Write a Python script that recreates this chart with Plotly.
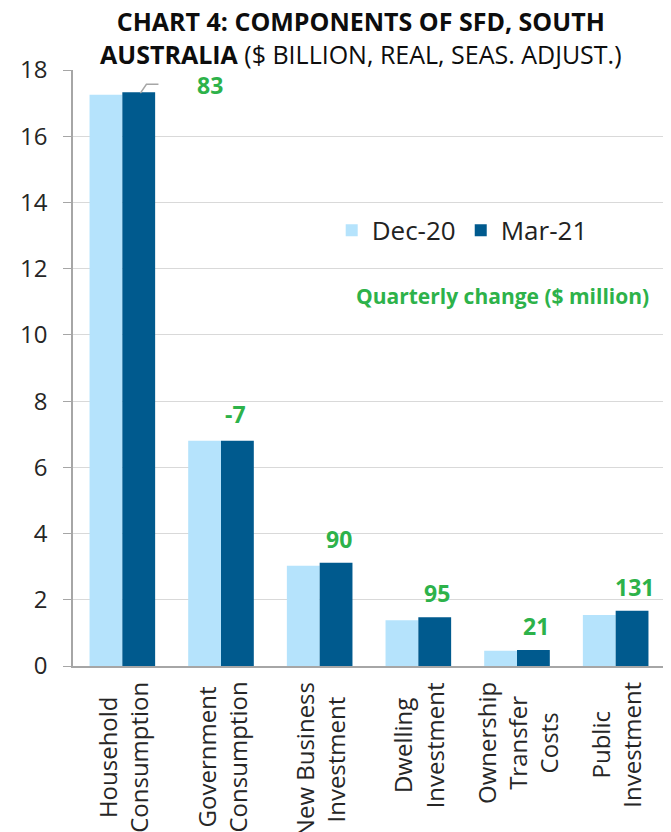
import plotly.graph_objects as go

categories = ["Household<br>Consumption", "Government<br>Consumption", "New Business<br>Investment",
              "Dwelling<br>Investment", "Ownership<br>Transfer<br>Costs", "Public<br>Investment"]
dec20 = [17.25, 6.80, 3.03, 1.38, 0.46, 1.54]
mar21 = [17.33, 6.80, 3.12, 1.47, 0.48, 1.67]
changes = ["83", "-7", "90", "95", "21", "131"]

LIGHT = "#B5E3FC"
DARK = "#005A8E"
GREEN = "#2DB24A"
FONT = "Open Sans"

xs = list(range(len(categories)))

fig = go.Figure()
fig.add_trace(go.Bar(x=xs, y=dec20, name="Dec-20", marker=dict(color=LIGHT, line=dict(width=0))))
fig.add_trace(go.Bar(x=xs, y=mar21, name="Mar-21", marker=dict(color=DARK, line=dict(width=0))))

annotations = []
# change labels above the Mar-21 bars
for i, (v, c) in enumerate(zip(mar21, changes)):
    if i == 0:
        xsh, ysh = 88, 7
    elif i == 1:
        xsh, ysh = 14, 27
    else:
        xsh, ysh = 19, 24
    annotations.append(dict(x=i, y=v, xref="x", yref="y", text="<b>%s</b>" % c, showarrow=False,
                            xshift=xsh, yshift=ysh, yanchor="middle", xanchor="center",
                            font=dict(family=FONT, size=23, color=GREEN)))

# category labels (rotated, centre-aligned)
for i, cat in enumerate(categories):
    annotations.append(dict(x=i, y=0, xref="x", yref="y", text=cat, showarrow=False,
                            textangle=-90, align="center", yanchor="top", xanchor="center",
                            yshift=-14, font=dict(family=FONT, size=24, color="#262626")))

annotations.append(dict(x=0.487, xref="paper", y=1.0545, yref="paper", yanchor="middle",
                        text="<b>CHART 4: COMPONENTS OF SFD, SOUTH</b><br><b>AUSTRALIA</b> ($ BILLION, REAL, SEAS. ADJUST.)",
                        showarrow=False, align="center",
                        font=dict(family=FONT, size=25, color="#0D0D0D")))

annotations.append(dict(x=1.0, xref="paper", y=11.17, yref="y", xanchor="right", yanchor="middle",
                        xshift=-14,
                        text="<b>Quarterly change ($ million)</b>", showarrow=False,
                        font=dict(family=FONT, size=21, color=GREEN)))

fig.update_layout(
    width=671, height=832,
    margin=dict(l=62, r=14, t=62, b=174),
    paper_bgcolor="white", plot_bgcolor="white",
    barmode="group", bargap=0.335, bargroupgap=0,
    showlegend=True,
    legend=dict(orientation="h", x=0.437, y=13.16 / 18, xanchor="left", yanchor="middle",
                font=dict(family=FONT, size=26, color="#222222"),
                bgcolor="rgba(0,0,0,0)", itemwidth=30, traceorder="normal"),
    annotations=annotations,
    shapes=[dict(type="path", xref="x", yref="y",
                 path="M 0.183,17.3 L 0.244,17.57 L 0.366,17.57",
                 line=dict(color="#A6A6A6", width=1.5))],
    font=dict(family=FONT),
)
fig.update_xaxes(range=[-0.5, 5.5], showticklabels=False, ticks="", showgrid=False,
                 showline=True, linecolor="#A6A6A6", linewidth=1.5, zeroline=False)
fig.update_yaxes(range=[0, 18], dtick=2, tick0=0, showgrid=True, gridcolor="#D9D9D9", gridwidth=1,
                 showline=True, linecolor="#A6A6A6", linewidth=1.5, ticks="outside", ticklen=8,
                 tickcolor="#A6A6A6", zeroline=False, ticklabelstandoff=11,
                 tickfont=dict(family=FONT, size=24, color="#262626"))

fig.write_html("out.html")
